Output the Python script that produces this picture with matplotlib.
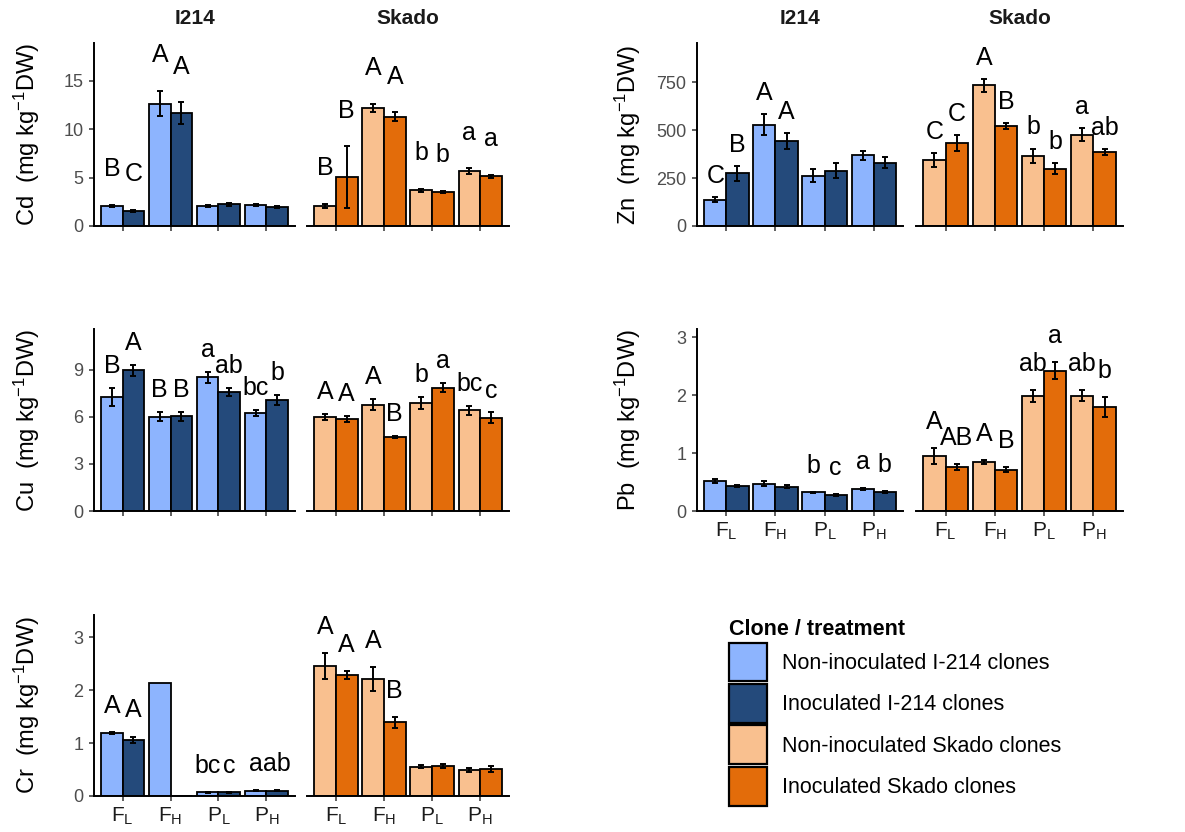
import numpy as np
import matplotlib.pyplot as plt
from matplotlib.patches import Patch

plt.rcParams['font.family'] = ['Liberation Sans', 'DejaVu Sans']
plt.rcParams['mathtext.fontset'] = 'custom'
plt.rcParams['mathtext.rm'] = 'Liberation Sans'
plt.rcParams['mathtext.it'] = 'Liberation Sans:italic'
plt.rcParams['mathtext.bf'] = 'Liberation Sans:bold'

# treatment groups on the x axis
tick_labels = [r'F$_\mathrm{L}$', r'F$_\mathrm{H}$', r'P$_\mathrm{L}$', r'P$_\mathrm{H}$']
clones = ['I214', 'Skado']

# values: [non-inoculated], [inoculated]
cd_i214 = [[2.08, 12.64, 2.04, 2.15], [1.52, 11.67, 2.25, 1.97]]
cd_i214_se = [[0.12, 1.3, 0.12, 0.1], [0.1, 1.1, 0.15, 0.07]]
cd_i214_let = [['B', 'A', '', ''], ['C', 'A', '', '']]
cd_skado = [[2.08, 12.19, 3.67, 5.65], [5.02, 11.29, 3.5, 5.13]]
cd_skado_se = [[0.2, 0.45, 0.15, 0.3], [3.2, 0.45, 0.12, 0.15]]
cd_skado_let = [['B', 'A', 'b', 'a'], ['B', 'A', 'b', 'a']]

zn_i214 = [[138, 527, 262, 368], [274, 443, 288, 330]]
zn_i214_se = [[15, 55, 35, 25], [40, 40, 40, 28]]
zn_i214_let = [['C', 'A', '', ''], ['B', 'A', '', '']]
zn_skado = [[344, 733, 366, 476], [431, 522, 298, 384]]
zn_skado_se = [[35, 35, 38, 35], [42, 15, 28, 15]]
zn_skado_let = [['C', 'A', 'b', 'a'], ['C', 'B', 'b', 'ab']]

cu_i214 = [[7.29, 6.01, 8.53, 6.25], [8.96, 6.03, 7.59, 7.08]]
cu_i214_se = [[0.58, 0.3, 0.35, 0.2], [0.35, 0.28, 0.25, 0.3]]
cu_i214_let = [['B', 'B', 'a', 'bc'], ['A', 'B', 'ab', 'b']]
cu_skado = [[5.97, 6.76, 6.91, 6.42], [5.86, 4.73, 7.87, 5.93]]
cu_skado_se = [[0.2, 0.35, 0.38, 0.28], [0.18, 0.08, 0.3, 0.35]]
cu_skado_let = [['A', 'A', 'b', 'bc'], ['A', 'B', 'a', 'c']]

pb_i214 = [[0.514, 0.473, 0.323, 0.38], [0.433, 0.42, 0.277, 0.329]]
pb_i214_se = [[0.03, 0.04, 0.01, 0.02], [0.02, 0.02, 0.015, 0.015]]
pb_i214_let = [['', '', 'b', 'a'], ['', '', 'c', 'b']]
pb_skado = [[0.946, 0.842, 1.985, 1.99], [0.762, 0.715, 2.42, 1.79]]
pb_skado_se = [[0.14, 0.03, 0.1, 0.1], [0.05, 0.04, 0.15, 0.17]]
pb_skado_let = [['A', 'A', 'ab', 'ab'], ['AB', 'B', 'a', 'b']]

cr_i214 = [[1.19, 2.13, 0.07, 0.10], [1.06, np.nan, 0.07, 0.10]]
cr_i214_se = [[0.01, np.nan, 0.005, 0.01], [0.06, np.nan, 0.005, 0.01]]
cr_i214_let = [['A', '', 'bc', 'a'], ['A', '', 'c', 'ab']]
cr_skado = [[2.46, 2.21, 0.553, 0.49], [2.29, 1.39, 0.572, 0.51]]
cr_skado_se = [[0.24, 0.22, 0.03, 0.03], [0.07, 0.1, 0.04, 0.05]]
cr_skado_let = [['A', 'A', '', ''], ['A', 'B', '', '']]

legend_labels = ['Non-inoculated I-214 clones', 'Inoculated I-214 clones',
                 'Non-inoculated Skado clones', 'Inoculated Skado clones']
colors = {'I214': ['#8DB4FE', '#244A7B'], 'Skado': ['#F9C08F', '#E36C0A']}

W, H = 1185, 832
fig = plt.figure(figsize=(W / 100, H / 100), dpi=100)


def px_axes(l, t, r, b):
    return fig.add_axes([l / W, 1 - b / H, (r - l) / W, (b - t) / H])


# metal, data per clone, y-limit, ticks, letter offset, column, row (top, bottom), x labels
panels = [
    ('Cd', (cd_i214, cd_i214_se, cd_i214_let), (cd_skado, cd_skado_se, cd_skado_let),
     18.9, [0, 5, 10, 15], 3.7, 0, (43, 226), False),
    ('Zn', (zn_i214, zn_i214_se, zn_i214_let), (zn_skado, zn_skado_se, zn_skado_let),
     954, [0, 250, 500, 750], 110, 1, (43, 226), False),
    ('Cu', (cu_i214, cu_i214_se, cu_i214_let), (cu_skado, cu_skado_se, cu_skado_let),
     11.6, [0, 3, 6, 9], 1.4, 0, (329, 511), False),
    ('Pb', (pb_i214, pb_i214_se, pb_i214_let), (pb_skado, pb_skado_se, pb_skado_let),
     3.14, [0, 1, 2, 3], 0.45, 1, (329, 511), True),
    ('Cr', (cr_i214, cr_i214_se, cr_i214_let), (cr_skado, cr_skado_se, cr_skado_let),
     3.42, [0, 1, 2, 3], 0.5, 0, (615, 796), True),
]

col_x = [[(94, 295), (307, 509)], [(697, 903), (916, 1123)]]
ylab_x = [27, 628]

x = np.arange(1, 5)
bw = 0.45

for metal, d_i214, d_skado, ytop, yticks, off, col, (top, bot), xlab in panels:
    for k, (clone, (means, ses, lets)) in enumerate(zip(clones, [d_i214, d_skado])):
        l, r = col_x[col][k]
        ax = px_axes(l, top, r, bot)
        for j in range(2):
            xs = x + (j - 0.5) * bw
            m = np.array(means[j], dtype=float)
            s = np.array(ses[j], dtype=float)
            ax.bar(xs, np.nan_to_num(m), width=bw, color=colors[clone][j],
                   edgecolor='black', linewidth=1.3, zorder=2)
            ax.errorbar(xs, m, yerr=s, fmt='none', ecolor='black',
                        elinewidth=1.4, capsize=2, capthick=1.4, zorder=3)
            for xi, mi, si, lt in zip(xs, m, s, lets[j]):
                if lt:
                    ytxt = mi + np.nan_to_num(si) + off
                    ax.text(xi, ytxt, lt, ha='center', va='center',
                            fontsize=18, color='black')
        ax.set_xlim(0.4, 4.6)
        ax.set_ylim(0, ytop)
        ax.set_xticks(x)
        ax.set_yticks(yticks)
        for sp in ['top', 'right']:
            ax.spines[sp].set_visible(False)
        ax.spines['bottom'].set_linewidth(1.4)
        ax.spines['left'].set_linewidth(1.4)
        ax.tick_params(axis='both', color='#333333', length=3.5, width=1.1)
        ax.tick_params(axis='y', labelsize=13, labelcolor='#4D4D4D', pad=4)
        if xlab:
            ax.set_xticklabels(tick_labels, fontsize=15, color='#1A1A1A')
        else:
            ax.set_xticklabels([])
        if k == 1:
            ax.spines['left'].set_visible(False)
            ax.tick_params(axis='y', left=False, labelleft=False)
        if top == 43:
            fig.text((l + r) / 2 / W, 1 - 18 / H, clone, ha='center', va='center',
                     fontsize=15, fontweight='bold', color='#1A1A1A')
    fig.text(ylab_x[col] / W, 1 - (top + bot) / 2 / H,
             metal + r'  (mg kg$^{-1}$DW)', rotation=90,
             ha='center', va='center', fontsize=17)

handles = [Patch(facecolor=c, edgecolor='black', linewidth=1.6)
           for c in colors['I214'] + colors['Skado']]
fig.legend(handles, legend_labels, title='Clone / treatment',
           loc='upper left', bbox_to_anchor=(729 / W, 1 - 619 / H),
           frameon=False, fontsize=15.5,
           title_fontproperties={'weight': 'bold', 'size': 15.5},
           handlelength=1.75, handleheight=2.4, labelspacing=0.12,
           handletextpad=0.7, alignment='left', borderpad=0, borderaxespad=0)

plt.savefig('out.png', dpi=100)
